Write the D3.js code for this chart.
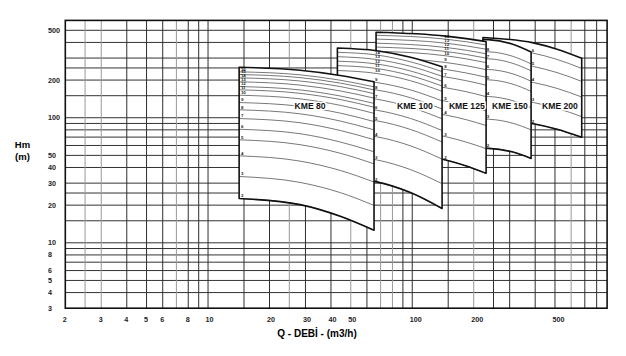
<!DOCTYPE html>
<html><head><meta charset="utf-8">
<script src="https://cdn.jsdelivr.net/npm/d3@7"></script>
<style>
body{margin:0;background:#fff}
svg{display:block;font-family:"Liberation Sans",Arial,sans-serif}
</style>
</head><body>
<svg id="chart" width="626" height="356"></svg>
<script>
// ---------- axes ----------
const xTickValues = [2,3,4,5,6,8,10,20,30,40,50,100,200,500];
const yTickValues = [3,4,5,6,8,10,20,30,40,50,100,200,500];
const xGridDark  = [4,5,6,8,9,10,15,20,30,40,60,90,100,150,250,300,400,500,700,800];
const xGridLight = [2.5,3,7,25,50,70,80,200,600];
const yGridValues = [4,5,6,7,8,9,10,15,20,25,30,40,50,60,70,80,90,100,150,200,250,300,400,500];

// ---------- pump families ----------
const familyNames = ["KME 80","KME 100","KME 125","KME 150","KME 200"];
const titleQ = [31.6, 103, 185, 301, 529];
const titleH = 124;
const labelSample = [0,1,1,1,1];

const kme80Q = [14.2, 28.2, 44.4, 65];
const kme80Stages = [2,3,4,5,6,7,8,9,10,11,12,13,14,15,16];
const kme80Heads = [
  [22.6,20.2,16.3,12.6],[33.9,30.4,25.2,19.9],[49.6,45.0,37.9,30.6],[66.6,60.9,52.0,42.8],
  [80.9,74.5,64.0,53.4],[98.5,91.2,79.1,66.7],[115.7,107.5,94.1,80.0],[132.3,123.4,108.9,93.2],
  [151.4,141.6,125.7,108.4],[167.2,156.7,139.8,121.3],[177.6,166.9,149.2,130.1],[193.8,182.4,163.8,143.5],
  [208.5,196.6,177.4,155.9],[221.6,209.4,189.2,166.9],[232.8,220.3,199.5,176.6]
];
const kme80Top = [253,239.9,217.9,194.1];

const kme100Q = [43, 67, 98, 140];
const kme100Stages = [2,3,4,5,6,7,8,9,10,11,12,13,14];
const kme100Heads = [
  [33.2,30.7,25.2,18.8],[49.5,46.0,38.5,29.7],[75.3,70.4,59.6,46.7],[100.7,94.5,80.6,64.0],
  [122.2,114.8,98.7,79.0],[149.1,140.6,121.3,98.0],[176.4,166.6,144.5,117.4],[202.5,191.2,166.9,136.3],
  [238.6,225.7,197.7,162.6],[261.1,247.5,217.2,179.3],[283.1,268.9,236.4,195.9],[307.6,292.1,257.7,214.4],
  [333.6,317.4,280.0,233.8]
];
const kme100Top = [361.1,343.6,304.8,255.9];

const kme125Q = [66.5, 146, 184, 230];
const kme125Stages = [2,3,4,5,6,7,8,9,10,11,12,13,14];
const kme125Heads = [
  [54.2,45.9,41.1,35.9],[81.7,70.5,63.8,56.6],[119.8,105.1,96.4,86.6],[152.8,135.5,125.0,113.3],
  [193.8,173.4,161.4,147.5],[234.2,211.6,197.7,182.0],[267.4,243.0,227.8,210.9],[302.6,276.4,260.6,242.1],
  [340.4,312.8,295.4,275.9],[367.2,338.5,320.3,299.8],[394.5,364.5,346.2,324.5],[425.4,394.5,375.4,353.2],
  [456.1,424.6,404.8,381.6]
];
const kme125Top = [482.2,449.5,429.3,405.5];

const kme150Q = [222, 236, 308, 382];
const kme150Stages = [2,3,4,5,6,7,8];
const kme150Heads = [
  [57.0,56.9,53.4,47.3],[97.5,97.3,90.7,80.0],[148.1,147.8,137.5,120.4],[201.4,201.0,186.4,162.6],
  [243.5,243.0,225.3,195.9],[296.5,295.9,273.4,237.3],[337.3,336.7,311.1,269.4]
];
const kme150Top = [422.3,421.1,388.7,335.6];

const kme200Q = [222, 392, 512, 676];
const kme200Stages = [2,3,4,5,6];
const kme200Heads = [
  [97.6,89.5,80.8,69.7],[144.8,132.3,118.9,102.0],[210.1,191.2,171.6,146.4],
  [282.6,256.8,229.5,195.2],[361.7,328.1,292.6,248.0]
];
const kme200Top = [438.1,396.7,353.2,298.7];

const families = [
  {q:kme80Q,  stages:kme80Stages,  heads:kme80Heads,  top:kme80Top},
  {q:kme100Q, stages:kme100Stages, heads:kme100Heads, top:kme100Top},
  {q:kme125Q, stages:kme125Stages, heads:kme125Heads, top:kme125Top},
  {q:kme150Q, stages:kme150Stages, heads:kme150Heads, top:kme150Top},
  {q:kme200Q, stages:kme200Stages, heads:kme200Heads, top:kme200Top}
].map((f,i)=>Object.assign(f,{name:familyNames[i], titleQ:titleQ[i], labelIdx:labelSample[i]}));

// ---------- drawing ----------
const svg = d3.select("#chart");
const x = d3.scaleLog().domain([2,900]).range([65.3,607.1]);
const y = d3.scaleLog().domain([3,600]).range([308.2,20.4]);
const X0 = x.range()[0], X1 = x.range()[1], Y0 = y.range()[0], Y1 = y.range()[1];

const grid = svg.append("g");
grid.selectAll(".gy").data(yGridValues).join("line")
  .attr("x1",X0).attr("x2",X1).attr("y1",d=>y(d)).attr("y2",d=>y(d))
  .attr("stroke","#333").attr("stroke-width",1);
grid.selectAll(".gxd").data(xGridDark).join("line")
  .attr("y1",Y0).attr("y2",Y1).attr("x1",d=>x(d)).attr("x2",d=>x(d))
  .attr("stroke","#2e2e2e").attr("stroke-width",1);
grid.selectAll(".gxl").data(xGridLight).join("line")
  .attr("y1",Y0).attr("y2",Y1).attr("x1",d=>x(d)).attr("x2",d=>x(d))
  .attr("stroke","#999").attr("stroke-width",1);

svg.append("rect").attr("x",X0).attr("y",Y1).attr("width",X1-X0).attr("height",Y0-Y1)
  .attr("fill","none").attr("stroke","#111").attr("stroke-width",1.6);

// tick labels
svg.append("g").selectAll("text").data(xTickValues).join("text")
  .attr("x",d=>x(d)-2.5).attr("y",322).attr("font-size",7.2).attr("font-weight","bold")
  .attr("fill","#222").text(d=>d);
svg.append("g").selectAll("text").data(yTickValues).join("text")
  .attr("x",48).attr("y",d=>y(d)).attr("dy","0.35em").attr("font-size",7.2).attr("font-weight","bold")
  .attr("fill","#222").text(d=>d);

svg.append("text").attr("x",22.5).attr("y",147.5).attr("text-anchor","middle")
  .attr("font-size",9.5).attr("font-weight","bold").text("Hm");
svg.append("text").attr("x",22.5).attr("y",159.5).attr("text-anchor","middle")
  .attr("font-size",9.5).attr("font-weight","bold").text("(m)");
svg.append("text").attr("x",317).attr("y",337).attr("text-anchor","middle")
  .attr("font-size",10).attr("font-weight","bold").text("Q - DEBİ - (m3/h)");

// families drawn back to front
const famG = svg.append("g");
families.slice().reverse().forEach(f=>{
  const g = famG.append("g");
  const idx = d3.range(f.q.length);
  const area = d3.area().curve(d3.curveMonotoneX)
    .x(i=>x(f.q[i])).y0(i=>y(f.heads[0][i])).y1(i=>y(f.top[i]));
  g.append("path").attr("d",area(idx)).attr("fill","#fff").attr("stroke","none");
  const line = d3.line().curve(d3.curveMonotoneX).x(i=>x(f.q[i]));
  g.selectAll(".stage").data(f.heads).join("path")
    .attr("d",h=>line.y(i=>y(h[i]))(idx))
    .attr("fill","none").attr("stroke","#555").attr("stroke-width",0.8);
  const li = f.labelIdx;
  g.selectAll(".lab").data(f.stages).join("text")
    .attr("x",x(f.q[li]) + (li===0 ? 1.8 : -1.6))
    .attr("y",(s,k)=>y(f.heads[k][li]) - 2.6)
    .attr("dy","0.35em").attr("font-size",4.4).attr("font-weight","bold").attr("fill","#222")
    .text(s=>s);
  g.append("path").attr("d",area(idx)).attr("fill","none").attr("stroke","#111")
    .attr("stroke-width",1.6).attr("stroke-linejoin","round");
});

// titles
svg.append("g").selectAll("text").data(families).join("text")
  .attr("x",f=>x(f.titleQ)).attr("y",y(titleH)).attr("dy","0.35em")
  .attr("text-anchor","middle").attr("font-size",8.6).attr("font-weight","bold")
  .attr("fill","#111").attr("stroke","#fff").attr("stroke-width",3)
  .attr("paint-order","stroke").text(f=>f.name);
</script>
</body></html>
